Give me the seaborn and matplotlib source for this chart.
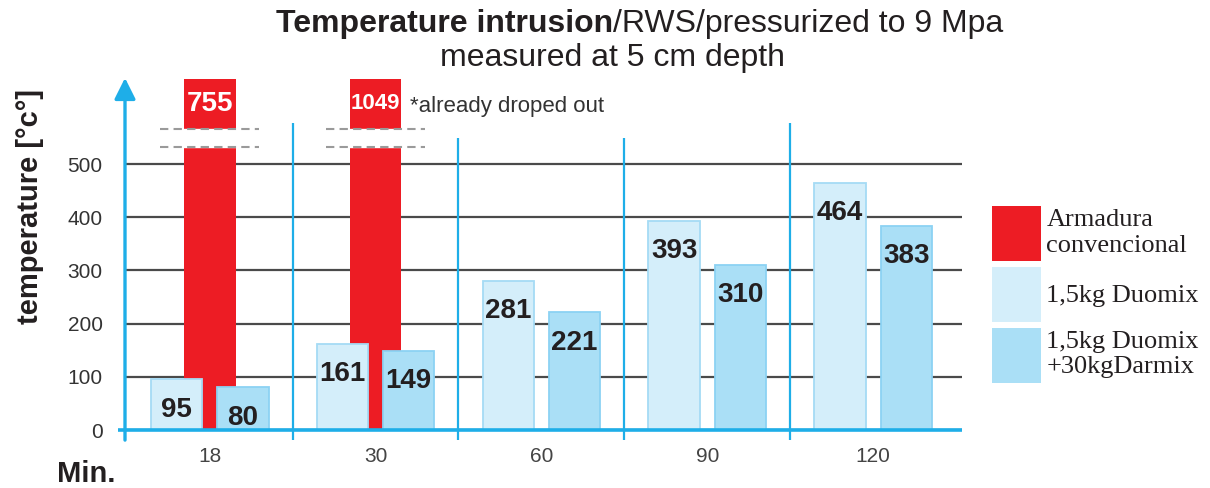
import numpy as np
import pandas as pd
import matplotlib
matplotlib.use("Agg")
import matplotlib.pyplot as plt
import seaborn as sns

# data
minutes = ["18", "30", "60", "90", "120"]
armadura = [755, 1049, np.nan, np.nan, np.nan]
duomix = [95, 161, 281, 393, 464]
duomix_darmix = [80, 149, 221, 310, 383]
series_names = ["Armadura\nconvencional", "1,5kg Duomix", "1,5kg Duomix\n+30kgDarmix"]
y_ticks = [0, 100, 200, 300, 400, 500]

RED = "#ED1C24"
LIGHT = "#D4EEFA"
MID = "#AADFF6"
BLUE = "#1EAEE8"
GRID = "#4a4a4a"
TXT = "#231F20"

sns.set_style("white")
plt.rcParams["font.family"] = ["Liberation Sans", "DejaVu Sans"]

fig = plt.figure(figsize=(12.1, 4.88), dpi=100)
ax = fig.add_axes([125 / 1210, 1 - 430 / 488, 837 / 1210, 351 / 488])

# red bars (behind)
sns.barplot(x=minutes, y=armadura, order=minutes, color=RED, saturation=1,
            width=0.313, errorbar=None, linewidth=0, zorder=2, ax=ax)

# the two blue series
df = pd.DataFrame({
    "Min.": minutes * 2,
    "temp": duomix + duomix_darmix,
    "serie": [series_names[1]] * 5 + [series_names[2]] * 5,
})
sns.barplot(data=df, x="Min.", y="temp", hue="serie", order=minutes,
            palette=[LIGHT, MID], saturation=1, width=0.8, gap=0.225,
            errorbar=None, legend=False, zorder=3, ax=ax)
blue_containers = ax.containers[1:]
for cont, ec in zip(blue_containers, ["#A5DBF5", "#8CD2F3"]):
    for bar in cont:
        bar.set_edgecolor(ec)
        bar.set_linewidth(1.3)
    ax.bar_label(cont, labels=[f"{v:g}" for v in cont.datavalues],
                 label_type="edge", padding=-31, fontsize=20,
                 fontweight="bold", color=TXT, zorder=6)

xl, xr = -0.51, 4.535
ax.set_xlim(xl, xr)
ax.set_ylim(0, 660)

# axis break on the red bars
for i, v in enumerate(armadura):
    if np.isnan(v):
        continue
    ax.fill_between([i - 0.2, i + 0.2], 532, 566, color="white", zorder=4)
    ax.hlines([532, 566], i - 0.3, i + 0.3, colors="#9a9a9a", lw=1.5,
              linestyles=(0, (4, 2.5)), zorder=5)
    s = f"{v:g}"
    ax.text(i, 613, s, ha="center", va="center", color="white",
            fontsize=20 if len(s) <= 3 else 16, fontweight="bold", zorder=6)

# grid & axes
for sp in ax.spines.values():
    sp.set_visible(False)
ax.set_yticks(y_ticks)
ax.grid(axis="y", color=GRID, lw=1.6, zorder=0)
ax.grid(axis="x", visible=False)
ax.set_axisbelow(True)
ax.tick_params(axis="y", length=6, width=1.6, color=GRID, pad=10,
               labelsize=15, labelcolor="#333333")
ax.tick_params(axis="x", length=0, pad=12, labelsize=15, labelcolor="#444444")
ax.set_xlabel("")
ax.set_ylabel("")

ax.vlines([0.5, 1.5, 2.5, 3.5], -19, [578, 549, 549, 577], colors=BLUE,
          lw=1.6, clip_on=False, zorder=1)
ax.plot([xl - 0.045, xr], [0, 0], color=BLUE, lw=2.6, clip_on=False, zorder=7,
        solid_capstyle="butt")
ax.annotate("", xy=(xl, 662), xytext=(xl, -19),
            arrowprops=dict(arrowstyle="-|>", color=BLUE, lw=2.4,
                            mutation_scale=32, shrinkA=0, shrinkB=0),
            annotation_clip=False, zorder=8)

# texts
fig.text(613 / 1210, 0.951, "Temperature intrusion", ha="right", va="center",
         fontsize=23, fontweight="bold", color=TXT)
fig.text(613 / 1210, 0.951, "/RWS/pressurized to 9 Mpa", ha="left", va="center",
         fontsize=23, color=TXT)
fig.text(613 / 1210, 0.881, "measured at 5 cm depth", ha="center", va="center",
         fontsize=23, color=TXT)
fig.text(410 / 1210, 1 - 107 / 488, "*already droped out", ha="left",
         va="center", fontsize=16, color="#333333")
fig.text(30 / 1210, 1 - 207 / 488, "temperature [°c°]", rotation=90,
         ha="center", va="center", fontsize=21, fontweight="bold", color=TXT)
fig.text(57 / 1210, 1 - 474 / 488, "Min.", ha="left", va="center",
         fontsize=21, fontweight="bold", color=TXT)

# legend
handles = [plt.Rectangle((0, 0), 1, 1, facecolor=c, edgecolor="none")
           for c in [RED, LIGHT, MID]]
leg = fig.legend(handles, series_names, loc="upper left",
                 bbox_to_anchor=(992 / 1210, 1 - 206 / 488), frameon=False,
                 prop={"family": "Liberation Serif", "size": 19},
                 handlelength=1.86, handleheight=2.83, handletextpad=0.2,
                 labelspacing=0.22, borderpad=0, borderaxespad=0)
for t in leg.get_texts():
    t.set_color(TXT)

fig.savefig("out.png", dpi=100)
